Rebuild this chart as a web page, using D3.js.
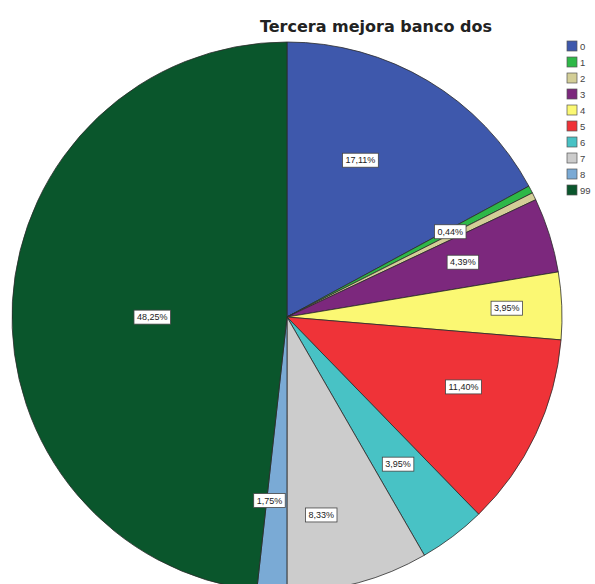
<!DOCTYPE html>
<html>
<head>
<meta charset="utf-8">
<script src="https://cdn.jsdelivr.net/npm/d3@7"></script>
<style>
  html, body { margin: 0; padding: 0; background: #fff; }
  svg { display: block; }
</style>
</head>
<body>
<script>
// Respuestas a "Tercera mejora banco dos" (n = 228)
const categories = ["0", "1", "2", "3", "4", "5", "6", "7", "8", "99"];
const percents = [17.11, 0.44, 0.44, 4.39, 3.95, 11.40, 3.95, 8.33, 1.75, 48.25];
const colors = ["#3E58AC", "#2EB848", "#D3CE97", "#7C287D", "#FBF873",
                "#EF3338", "#48C2C5", "#CCCCCC", "#7AAAD5", "#0A562C"];
const title = "Tercera mejora banco dos";

const W = 595, H = 584;
const cx = 287, cy = 317, R = 275;

const svg = d3.select("body").append("svg")
  .attr("width", W).attr("height", H);

const data = categories.map((c, i) => ({ cat: c, value: percents[i], color: colors[i] }));

// Slices run clockwise from twelve o'clock, in category order
const pie = d3.pie().value(d => d.value).sort(null);
const arcs = pie(data);
const arc = d3.arc().innerRadius(0).outerRadius(R);

const g = svg.append("g").attr("transform", `translate(${cx},${cy})`);

g.selectAll("path.slice")
  .data(arcs)
  .join("path")
  .attr("class", "slice")
  .attr("d", arc)
  .attr("fill", d => d.data.color)
  .attr("stroke", "#2b2b2b")
  .attr("stroke-width", 0.8);

// Label placement: a fraction of the radius along the slice bisector
const labelRadius = { "0": 0.63, "4": 0.8, "5": 0.69, "7": 0.73, "99": 0.49 };
const labelAngleShift = { "0": -0.1, "5": -0.065, "7": 0.09, "8": 0.04, "99": -0.055 };
const fmt = v => v.toFixed(2).replace(".", ",") + "%";

const placed = [];
arcs.forEach(a => {
  const rf = labelRadius[a.data.cat] ?? 0.67;
  const ang = (a.startAngle + a.endAngle) / 2 + (labelAngleShift[a.data.cat] ?? 0);
  const x = Math.sin(ang) * R * rf;
  const y = -Math.cos(ang) * R * rf;
  // skip a label that would sit on top of one already drawn
  if (placed.some(p => Math.abs(p.x - x) < 30 && Math.abs(p.y - y) < 12)) return;
  placed.push({ x, y, text: fmt(a.data.value) });
});

const lab = g.selectAll("g.lab").data(placed).join("g")
  .attr("class", "lab")
  .attr("transform", d => `translate(${d.x},${d.y})`);

lab.append("text")
  .attr("text-anchor", "middle")
  .attr("dy", "0.35em")
  .attr("font-family", "Liberation Sans, Arial, sans-serif")
  .attr("font-size", 9)
  .attr("fill", "#222")
  .text(d => d.text)
  .each(function (d) {
    const b = this.getBBox();
    d3.select(this.parentNode).insert("rect", "text")
      .attr("x", b.x - 3).attr("y", b.y - 2)
      .attr("width", b.width + 6).attr("height", b.height + 4)
      .attr("fill", "#fff")
      .attr("stroke", "#444")
      .attr("stroke-width", 0.8);
  });

// Title
svg.append("text")
  .attr("x", 376).attr("y", 32)
  .attr("text-anchor", "middle")
  .attr("font-family", "DejaVu Sans, Verdana, sans-serif")
  .attr("font-weight", "bold")
  .attr("font-size", 16)
  .attr("fill", "#222")
  .text(title);

// Legend
const legY = d3.scaleBand().domain(categories).range([41, 201]);
const leg = svg.append("g").selectAll("g").data(data).join("g")
  .attr("transform", d => `translate(567,${legY(d.cat)})`);

leg.append("rect")
  .attr("width", 10).attr("height", 10)
  .attr("fill", d => d.color)
  .attr("stroke", "#555")
  .attr("stroke-width", 0.7);

leg.append("text")
  .attr("x", 13).attr("y", 9)
  .attr("font-family", "Liberation Sans, Arial, sans-serif")
  .attr("font-size", 9.5)
  .attr("fill", "#444")
  .text(d => d.cat);
</script>
</body>
</html>
